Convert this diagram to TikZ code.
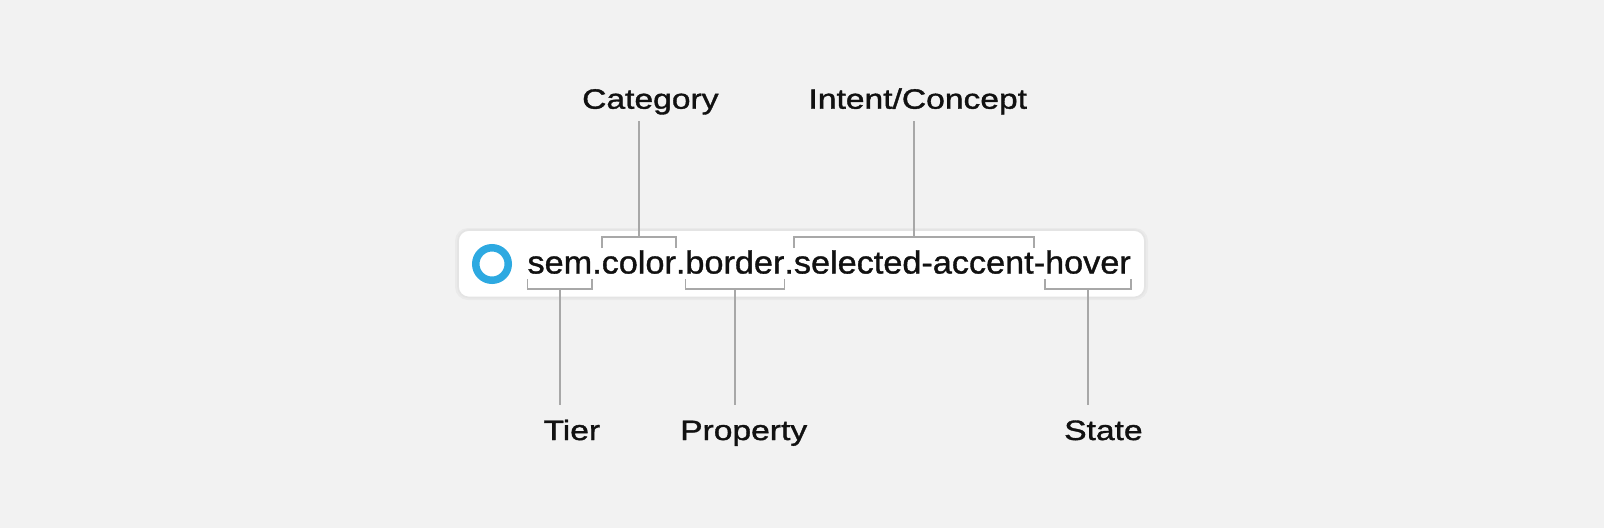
\documentclass[tikz,border=0pt]{standalone}
\usepackage{fontspec}
\setmainfont{Liberation Sans}
\newfontfamily\codefont[FakeStretch=1.07,FakeBold=1.1]{Liberation Sans}
\newfontfamily\labfont[FakeStretch=1.2,FakeBold=1.3]{Liberation Sans}
\definecolor{bg}{HTML}{F2F2F2}
\definecolor{boxline}{HTML}{E4E4E4}
\definecolor{ink}{HTML}{111111}
\definecolor{brk}{HTML}{A8A8A8}
\definecolor{blue}{HTML}{2DA9E1}
\tikzset{
  seg/.style={anchor=base west, inner sep=0pt, outer sep=0pt, text=ink, font=\codefont\fontsize{32}{36}\selectfont},
  lab/.style={anchor=base west, inner sep=0pt, text=ink, font=\labfont\fontsize{28}{32}\selectfont},
  br/.style={draw=brk, line width=1.7pt, line cap=butt, line join=miter},
}
\begin{document}
\begin{tikzpicture}[x=1pt,y=-1pt]
\useasboundingbox (0,0) rectangle (1604,528);
\fill[bg] (0,0) rectangle (1604,528);
% card
\fill[black, opacity=0.03, rounded corners=13pt] (455,228) rectangle (1148,300);
\draw[boxline, fill=white, line width=1.6pt, rounded corners=11pt] (458,230) rectangle (1145,297.5);
% icon
\node[draw=blue, line width=7.5pt, circle, minimum size=32.5pt, inner sep=0pt] (icon) at (492,264) {};
% token text in segments
\node[seg] (s1) at (527.5,273.5) {sem};
\node[seg] (d1) at (s1.base east) {.};
\node[seg] (s2) at (d1.base east) {color};
\node[seg] (d2) at (s2.base east) {.};
\node[seg] (s3) at (d2.base east) {border};
\node[seg] (d3) at (s3.base east) {.};
\node[seg] (s4) at (d3.base east) {selected-accent};
\node[seg] (d4) at (s4.base east) {-};
\node[seg] (s5) at (d4.base east) {hover};
% reference levels
\coordinate (bb) at (0,289);
\coordinate (bt) at (0,279);
\coordinate (tb) at (0,237);
\coordinate (tt) at (0,248);
\coordinate (topend) at (0,121);
\coordinate (botend) at (0,405);
% labels
\node[lab] (cat) at (582,108.7) {Category};
\node[lab] (int) at (808.3,108.7) {Intent/Concept};
\node[lab] (tier) at (543.3,440) {Tier};
\node[lab] (prop) at (680,440) {Property};
\node[lab] (state) at (1064,440) {State};
% bottom brackets
\foreach \n in {s1,s3,s5}{
  \draw[br] (\n.west |- bt) -- (\n.west |- bb) -- (\n.east |- bb) -- (\n.east |- bt);
}
% top brackets
\foreach \n in {s2,s4}{
  \draw[br] (\n.west |- tt) -- (\n.west |- tb) -- (\n.east |- tb) -- (\n.east |- tt);
}
% connectors
\coordinate (m1) at (s1.base |- bb);
\coordinate (m3) at (s3.base |- bb);
\coordinate (m5) at (s5.base |- bb);
\coordinate (m2) at (s2.base |- tb);
\coordinate (m4) at (s4.base |- tb);
\draw[br] (m1) -- (m1 |- botend);
\draw[br] (m3) -- (m3 |- botend);
\draw[br] (m5) -- (m5 |- botend);
\draw[br] (m2) -- (m2 |- topend);
\draw[br] (m4) -- (m4 |- topend);
\end{tikzpicture}
\end{document}
